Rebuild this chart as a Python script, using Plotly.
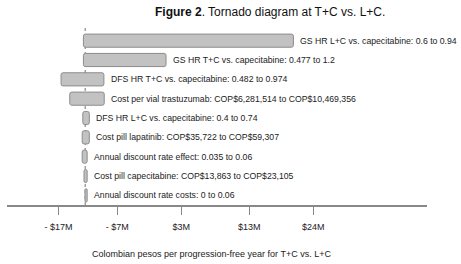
import plotly.graph_objects as go

# Parameters (top to bottom) and their ranges
names = [
    "GS HR L+C vs. capecitabine",
    "GS HR T+C vs. capecitabine",
    "DFS HR T+C vs. capecitabine",
    "Cost per vial trastuzumab",
    "DFS HR L+C vs. capecitabine",
    "Cost pill lapatinib",
    "Annual discount rate effect",
    "Cost pill capecitabine",
    "Annual discount rate costs",
]
ranges = [
    "0.6 to 0.94",
    "0.477 to 1.2",
    "0.482 to 0.974",
    "COP$6,281,514 to COP$10,469,356",
    "0.4 to 0.74",
    "COP$35,722 to COP$59,307",
    "0.035 to 0.06",
    "COP$13,863 to COP$23,105",
    "0 to 0.06",
]
# ICER (millions of COP per progression-free year), low and high ends
low_vals = [-13.0, -13.0, -16.6, -15.2, -13.1, -13.2, -13.2, -12.9, -12.75]
high_vals = [20.8, 0.3, -9.7, -9.65, -12.05, -12.05, -12.4, -12.4, -12.4]
base_case = -12.7

tick_vals = [-17.0, -7.55, 2.75, 13.7, 24.0]
tick_text = ["- $17M", "- $7M", "$3M", "$13M", "$24M"]

FONT = "Liberation Sans, Arial"

fig = go.Figure()
fig.add_trace(go.Bar(
    y=names,
    x=[h - l for h, l in zip(high_vals, low_vals)],
    base=low_vals,
    orientation="h",
    width=0.68,
    marker=dict(color="#c2c2c2", line=dict(color="#8c8c8c", width=1), cornerradius=2),
    hoverinfo="skip",
))

for n, r, h in zip(names, ranges, high_vals):
    fig.add_annotation(
        x=h, y=n, xref="x", yref="y",
        text=f"{n}: {r}", showarrow=False,
        xanchor="left", yanchor="middle", xshift=5,
        font=dict(family=FONT, size=8.7, color="#222"),
    )

fig.add_shape(
    type="line", xref="x", yref="paper",
    x0=base_case, x1=base_case, y0=0, y1=1.03,
    line=dict(color="#a0a0a0", width=1.5, dash="dot"), layer="below",
)

fig.add_annotation(
    xref="paper", yref="paper", x=0.486, y=-0.28,
    text="Colombian pesos per progression-free year for T+C vs. L+C",
    showarrow=False, xanchor="center", yanchor="middle",
    font=dict(family=FONT, size=9, color="#222"),
)

fig.update_layout(
    width=461, height=264,
    margin=dict(l=7, r=34, t=31, b=59),
    paper_bgcolor="white", plot_bgcolor="white",
    showlegend=False,
    title=dict(
        text="<b>Figure 2</b>. Tornado diagram at T+C vs. L+C.",
        xref="container", x=0.586, y=0.955, xanchor="center", yanchor="middle",
        font=dict(family=FONT, size=12, color="#111"),
    ),
    xaxis=dict(
        range=[-25.3, 42.3], tickvals=tick_vals, ticktext=tick_text,
        showgrid=False, zeroline=False, showline=True, linecolor="#888", linewidth=2,
        ticks="outside", ticklen=8, tickcolor="#888", tickwidth=1.5,
        ticklabelstandoff=4,
        tickfont=dict(family=FONT, size=9, color="#222"),
    ),
    yaxis=dict(
        autorange="reversed", showticklabels=False, showgrid=False,
        zeroline=False, showline=False, ticks="",
    ),
)

fig.write_html(
    "out.html",
    config={"displayModeBar": False, "staticPlot": True},
    post_script="document.body.style.margin='0';document.body.style.overflow='hidden';",
)
